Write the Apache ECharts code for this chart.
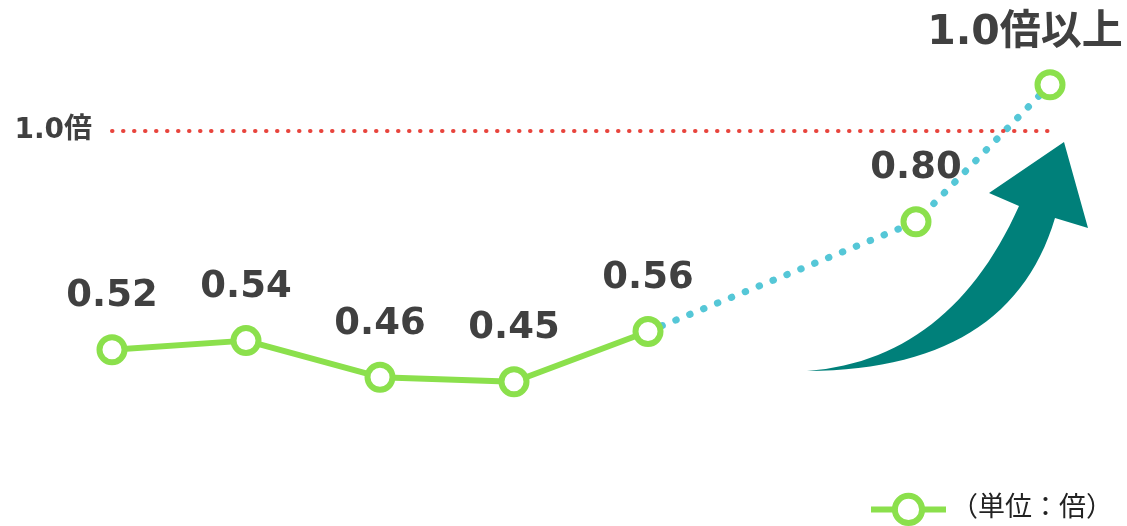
<!DOCTYPE html>
<html>
<head>
<meta charset="utf-8">
<script src="https://cdn.jsdelivr.net/npm/echarts@6/dist/echarts.min.js"></script>
<style>html,body{margin:0;padding:0;background:#fff;}#c{width:1127px;height:526px;}</style>
</head>
<body>
<div id="c"></div>
<script>
// ---- data ----
var categories = ['P1','P2','P3','P4','P5','P6','P7','P8'];
var actualValues = [0.52, 0.54, 0.46, 0.45, 0.56, null, null, null];
var forecastValues = [null, null, null, null, 0.56, null, 0.80, 1.10];
var forecastLabels = [null, null, null, null, null, null, '0.80', '1.0倍以上'];
var referenceValue = 1.0;
var referenceLabel = '1.0倍';
var legendName = '（単位：倍）';

var GREEN = '#8BE04C', CYAN = '#55C7D7', RED = '#E8443C', TEAL = '#00807A', TEXT = '#404040';
var FONT = '"DejaVu Sans","Noto Sans CJK JP",sans-serif';

var labelStyle = {
  show: true, position: 'top', distance: 19, color: TEXT,
  fontSize: 37, fontWeight: 'bold', fontFamily: FONT, lineHeight: 37
};

var aData = actualValues.map(function(v){ return v == null ? '-' : v; });
var bData = forecastValues.map(function(v, i){
  if (v == null) return '-';
  if (forecastLabels[i] == null) return {value: v, symbol: 'none', label: {show: false}};
  var item = {value: v, label: {formatter: forecastLabels[i]}};
  if (i === forecastValues.length - 1) {
    item.label.offset = [-25, 2];
    item.label.fontSize = 41;
  }
  return item;
});

// decorative curved arrow (quadratic curves sampled into a polygon)
function quad(p0, c, p1, n){
  var pts = [];
  for (var k = 0; k <= n; k++){
    var t = k / n, u = 1 - t;
    pts.push([u*u*p0[0] + 2*u*t*c[0] + t*t*p1[0], u*u*p0[1] + 2*u*t*c[1] + t*t*p1[1]]);
  }
  return pts;
}
var arrowPts = quad([807,371],[950,360],[1019,206],30)
  .concat([[989,193],[1064,142],[1088,228]])
  .concat(quad([1055,218],[1010,370],[807,371],30));

var chart = echarts.init(document.getElementById('c'));
chart.setOption({
  backgroundColor: '#fff',
  animation: false,
  grid: {left: 112, right: 77, top: 39, bottom: 30},
  xAxis: {type: 'category', data: categories, boundaryGap: false, show: false},
  yAxis: {type: 'value', min: 0.2, max: 1.2, show: false},
  legend: {
    data: [legendName], right: 14, bottom: 0, padding: 0,
    itemWidth: 75, itemHeight: 34, itemGap: 14,
    lineStyle: {width: 6},
    itemStyle: {borderWidth: 6},
    textStyle: {fontSize: 27, color: '#222', fontFamily: FONT}
  },
  graphic: [{
    type: 'polygon', z: 0,
    shape: {points: arrowPts},
    style: {fill: TEAL}
  }],
  series: [
    {
      name: 'forecast', type: 'line', z: 2, data: bData, connectNulls: true,
      symbol: 'circle', symbolSize: 25, showSymbol: true,
      lineStyle: {color: CYAN, width: 7, type: [0.5, 14.5], cap: 'round'},
      itemStyle: {color: '#fff', borderColor: GREEN, borderWidth: 6},
      label: labelStyle
    },
    {
      name: legendName, type: 'line', z: 3, data: aData,
      symbol: 'circle', symbolSize: 25,
      lineStyle: {color: GREEN, width: 6},
      itemStyle: {color: '#fff', borderColor: GREEN, borderWidth: 6},
      label: Object.assign({}, labelStyle, {formatter: function(p){ return p.value.toFixed(2); }}),
      markLine: {
        silent: true, symbol: 'none',
        lineStyle: {color: RED, width: 4, type: [0.5, 10.5], cap: 'round'},
        label: {show: true, position: 'start', distance: 20, formatter: referenceLabel,
          color: TEXT, fontSize: 28, fontWeight: 'bold', fontFamily: FONT},
        data: [{yAxis: referenceValue}]
      }
    }
  ]
});
</script>
</body>
</html>
